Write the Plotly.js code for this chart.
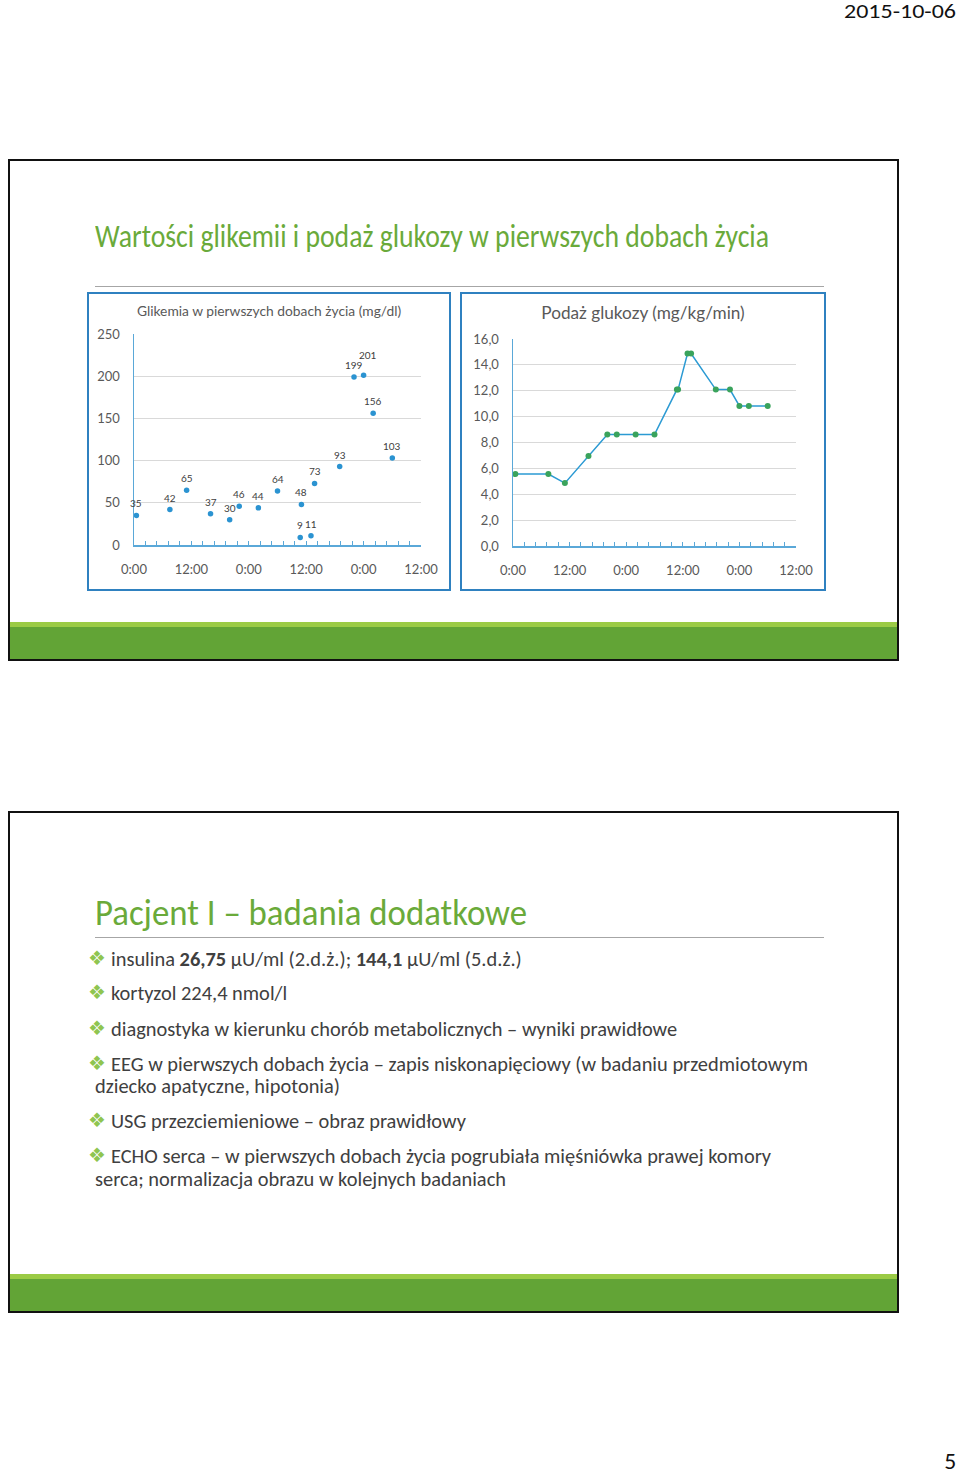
<!DOCTYPE html>
<html><head><meta charset="utf-8">
<script src="https://cdn.plot.ly/plotly-3.0.1.min.js"></script>
<style>
html,body{margin:0;padding:0;background:#fff;}
body{width:960px;height:1473px;position:relative;overflow:hidden;font-family:Carlito,Lato,"Open Sans",sans-serif;}
.abs{position:absolute;}
.fit{position:absolute;white-space:nowrap;transform-origin:0 50%;}
.fitr{position:absolute;white-space:nowrap;transform-origin:100% 50%;}
.slide{position:absolute;left:8px;width:887px;height:498px;border:2px solid #111;background:#fff;box-sizing:content-box;}
.band1{position:absolute;left:0;right:0;height:5px;background:#9bcb45;}
.band2{position:absolute;left:0;right:0;background:#62a436;}
.title{color:#6aaa3a;font-weight:300;}
.rule{position:absolute;left:95px;width:729px;height:1px;background:#a6a6a6;}
.bul{color:#8fc550;font-family:"DejaVu Sans",sans-serif;font-size:20px;line-height:22px;position:absolute;left:88px;}
.txt{color:#404040;font-size:20px;line-height:24px;height:24px;}
.frame{position:absolute;border:2px solid #2f81c0;box-sizing:border-box;pointer-events:none;}
</style></head>
<body>
<div class="fitr" data-w="112" style="right:4px;top:0px;font-size:21px;line-height:22px;color:#111;">2015-10-06</div>
<div class="fitr" data-w="12" style="right:4px;top:1451px;font-size:22px;line-height:22px;color:#111;">5</div>

<div class="slide" style="top:159px;">
  <div class="band1" style="top:461px;"></div>
  <div class="band2" style="top:466px;height:32px;"></div>
</div>
<div class="fit title" data-w="674" style="left:95px;top:218px;font-size:32px;line-height:38px;">Wartości glikemii i podaż glukozy w pierwszych dobach życia</div>
<div class="rule" style="top:286px;"></div>

<div id="g1" class="abs" style="left:88px;top:293px;width:362px;height:297px;"></div>
<div id="g2" class="abs" style="left:461px;top:293px;width:364px;height:297px;"></div>
<div class="frame" style="left:87px;top:292px;width:364px;height:299px;"></div>
<div class="frame" style="left:460px;top:292px;width:366px;height:299px;"></div>

<div class="slide" style="top:811px;">
  <div class="band1" style="top:461px;"></div>
  <div class="band2" style="top:466px;height:32px;"></div>
</div>
<div class="fit title" data-w="432" style="left:95px;top:892px;font-size:36px;line-height:42px;">Pacjent I – badania dodatkowe</div>
<div class="rule" style="top:937px;"></div>

<div id="bullets"></div>

<script>
// ---- data ----
const hours = [0.5, 7.5, 11, 16, 20, 22, 26, 30, 34.75, 35, 37, 37.75, 43, 46, 48, 50, 54];
const glikemia = [35, 42, 65, 37, 30, 46, 44, 64, 9, 48, 11, 73, 93, 199, 201, 156, 103];
const podaz = [5.56, 5.56, 4.86, 6.95, 8.62, 8.62, 8.62, 8.62, 12.09, 12.09, 14.87, 14.87, 12.09, 12.09, 10.83, 10.83, 10.83];
const tickHours = [0, 12, 24, 36, 48, 60];
const tickLabels = ["0:00", "12:00", "0:00", "12:00", "0:00", "12:00"];
const title1 = "Glikemia w pierwszych dobach życia (mg/dl)";
const title2 = "Podaż glukozy (mg/kg/min)";

const bulletItems = [
  ["insulina <b>26,75</b> µU/ml (2.d.ż.); <b>144,1</b> µU/ml (5.d.ż.)"],
  ["kortyzol 224,4 nmol/l"],
  ["diagnostyka w kierunku chorób metabolicznych – wyniki prawidłowe"],
  ["EEG w pierwszych dobach życia – zapis niskonapięciowy (w badaniu przedmiotowym", "dziecko apatyczne, hipotonia)"],
  ["USG przezciemieniowe – obraz prawidłowy"],
  ["ECHO serca – w pierwszych dobach życia pogrubiała mięśniówka prawej komory", "serca; normalizacja obrazu w kolejnych badaniach"]
];

// ---- bullets ----
const lineY = [[959],[993],[1029],[1064,1086],[1121],[1156,1179]];
const bc = document.getElementById('bullets');
const txtEls = [];
bulletItems.forEach((item, i) => {
  const b = document.createElement('div');
  b.className = 'bul'; b.textContent = '❖';
  b.style.top = (lineY[i][0] - 12) + 'px';
  bc.appendChild(b);
  item.forEach((line, j) => {
    const d = document.createElement('div');
    d.className = 'fit txt';
    d.innerHTML = line;
    d.style.left = (j === 0 ? 111 : 95) + 'px';
    d.style.top = (lineY[i][j] - 12) + 'px';
    bc.appendChild(d);
    txtEls.push(d);
  });
});

function fitAll(){
  document.querySelectorAll('[data-w]').forEach(el => {
    el.style.transform = '';
    const w = el.getBoundingClientRect().width;
    el.style.transform = 'scaleX(' + (parseFloat(el.dataset.w) / w) + ')';
  });
  const ref = txtEls[3];
  txtEls.forEach(e => e.style.transform = '');
  const s = 697 / ref.getBoundingClientRect().width;
  txtEls.forEach(e => e.style.transform = 'scaleX(' + s + ')');
}

// ---- charts ----
const axisBlue = '#5aa8d8';
const font = {family: 'Lato, "Open Sans", sans-serif', color: '#595959', size: 13};
function xaxis(){
  return {range: [0, 60], tickmode: 'array', tickvals: tickHours, ticktext: tickLabels,
    showline: true, linecolor: axisBlue, linewidth: 1.5, ticks: 'inside', ticklen: 4, tickcolor: axisBlue,
    ticklabelstandoff: 12, showgrid: false, zeroline: false, fixedrange: true,
    minor: {tickmode: 'linear', tick0: 0, dtick: 2.4, ticks: 'inside', ticklen: 4, tickcolor: axisBlue, showgrid: false},
    tickfont: {size: 13}};
}

const ann1 = glikemia.map((v, i) => ({x: hours[i], y: v, text: String(v), showarrow: false,
  yshift: (v === 201 ? 20 : 12), xshift: (v === 201 ? 4 : 0), font: {size: 10, color: '#404040'}}));

Plotly.newPlot('g1', [{
  x: hours, y: glikemia, type: 'scatter', mode: 'markers',
  marker: {color: '#2b93d1', size: 5.5}, hoverinfo: 'x+y'
}], {
  width: 362, height: 297, margin: {l: 46, r: 29, t: 41, b: 45},
  paper_bgcolor: '#fff', plot_bgcolor: '#fff', font: font, showlegend: false,
  title: {text: title1, x: 0.5, xanchor: 'center', y: 1 - 18 / 297, yanchor: 'middle', font: {size: 13.8, color: '#595959'}},
  xaxis: xaxis(),
  yaxis: {range: [0, 250], dtick: 50, showline: true, linecolor: axisBlue, linewidth: 1.5,
    gridcolor: '#d9d9d9', gridwidth: 1, zeroline: false, ticks: '', ticklabelstandoff: 10, fixedrange: true},
  annotations: ann1
}, {staticPlot: true});

Plotly.newPlot('g2', [{
  x: hours, y: podaz, type: 'scatter', mode: 'lines+markers',
  line: {color: '#2b9ad3', width: 1.5}, marker: {color: '#3aa35c', size: 6}
}], {
  width: 364, height: 297, margin: {l: 52, r: 29, t: 46, b: 44},
  paper_bgcolor: '#fff', plot_bgcolor: '#fff', font: font, showlegend: false, separators: ', ',
  title: {text: title2, x: 0.5, xanchor: 'center', y: 1 - 20 / 297, yanchor: 'middle', font: {size: 17.2, color: '#595959'}},
  xaxis: xaxis(),
  yaxis: {range: [0, 16], dtick: 2, tickformat: '.1f', showline: true, linecolor: axisBlue, linewidth: 1.5,
    gridcolor: '#d9d9d9', gridwidth: 1, zeroline: false, ticks: '', ticklabelstandoff: 10, fixedrange: true}
}, {staticPlot: true});

if (document.fonts && document.fonts.ready) { document.fonts.ready.then(fitAll); } else { fitAll(); }
fitAll();
</script>
</body></html>
